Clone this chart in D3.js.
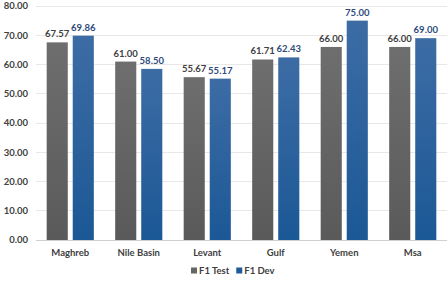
<!DOCTYPE html>
<html lang="en">
<head>
<meta charset="UTF-8">
<title>F1 by dialect</title>
<script src="https://d3js.org/d3.v7.min.js"></script>
<style>
  body { margin: 0; background: #fff; }
  text { font-family: Lato, "Open Sans", sans-serif; font-weight: bold; }
</style>
</head>
<body>
<div id="chart"></div>
<script>
// data
const regions = ["Maghreb", "Nile Basin", "Levant", "Gulf", "Yemen", "Msa"];
const f1Test = [67.57, 61.00, 55.67, 61.71, 66.00, 66.00];
const f1Dev = [69.86, 58.50, 55.17, 62.43, 75.00, 69.00];
const seriesNames = ["F1 Test", "F1 Dev"];
const yTicks = [0, 10, 20, 30, 40, 50, 60, 70, 80];

const W = 447, H = 282;
const margin = { top: 6, right: 0, bottom: 42, left: 36 };

const svg = d3.select("#chart").append("svg")
    .attr("width", W).attr("height", H);

const defs = svg.append("defs");
const grad = (id, top, bottom) => {
    const g = defs.append("linearGradient").attr("id", id)
        .attr("x1", 0).attr("y1", 0).attr("x2", 0).attr("y2", 1);
    g.append("stop").attr("offset", "0%").attr("stop-color", top);
    g.append("stop").attr("offset", "100%").attr("stop-color", bottom);
};
grad("gTest", "#6e6e6e", "#5a5a5a");
grad("gDev", "#3d6ca4", "#1b5896");

const x = d3.scaleBand().domain(regions)
    .range([margin.left, W - margin.right]).paddingInner(0).paddingOuter(0);
const x1 = d3.scaleBand().domain(seriesNames)
    .range([0, x.bandwidth()]).paddingInner(0.19).paddingOuter(0.41);
const y = d3.scaleLinear().domain([0, 80]).range([H - margin.bottom, margin.top]);

// gridlines
svg.append("g").selectAll("line").data(yTicks).join("line")
    .attr("x1", margin.left).attr("x2", W - margin.right)
    .attr("y1", d => y(d)).attr("y2", d => y(d))
    .attr("stroke", d => d === 0 ? "#d0d0d0" : "#e8e8e8")
    .attr("stroke-width", 1)
    .attr("shape-rendering", "crispEdges");

// y axis labels
svg.append("g").selectAll("text").data(yTicks).join("text")
    .attr("x", 28).attr("y", d => y(d)).attr("dy", "0.35em")
    .attr("text-anchor", "end").attr("font-size", 9.5).attr("fill", "#404040")
    .text(d => d.toFixed(2));

const series = [
    { name: "F1 Test", values: f1Test, fill: "url(#gTest)", key: "#666666", label: "#404040" },
    { name: "F1 Dev", values: f1Dev, fill: "url(#gDev)", key: "#1f5b98", label: "#2e4a7d" }
];

series.forEach(s => {
    const g = svg.append("g");
    g.selectAll("rect").data(regions).join("rect")
        .attr("x", d => x(d) + x1(s.name))
        .attr("width", x1.bandwidth())
        .attr("y", (d, i) => y(s.values[i]))
        .attr("height", (d, i) => y(0) - y(s.values[i]))
        .attr("fill", s.fill);
    g.selectAll("text").data(regions).join("text")
        .attr("x", d => x(d) + x1(s.name) + x1.bandwidth() / 2)
        .attr("y", (d, i) => y(s.values[i]) - 5)
        .attr("text-anchor", "middle").attr("font-size", 9.5)
        .attr("fill", s.label)
        .text((d, i) => s.values[i].toFixed(2));
});

// category labels
svg.append("g").selectAll("text").data(regions).join("text")
    .attr("x", d => x(d) + x.bandwidth() / 2)
    .attr("y", y(0) + 16)
    .attr("text-anchor", "middle").attr("font-size", 9.5).attr("fill", "#404040")
    .text(d => d);

// legend
const legend = svg.append("g").attr("transform", "translate(191, 271)");
let lx = 0;
series.forEach(s => {
    legend.append("rect").attr("x", lx).attr("y", -3.5).attr("width", 6).attr("height", 6)
        .attr("fill", s.key);
    const t = legend.append("text").attr("x", lx + 8).attr("y", 0).attr("dy", "0.35em")
        .attr("font-size", 9.5).attr("fill", "#404040").text(s.name);
    lx += 8 + t.node().getComputedTextLength() + 7;
});
</script>
</body>
</html>
